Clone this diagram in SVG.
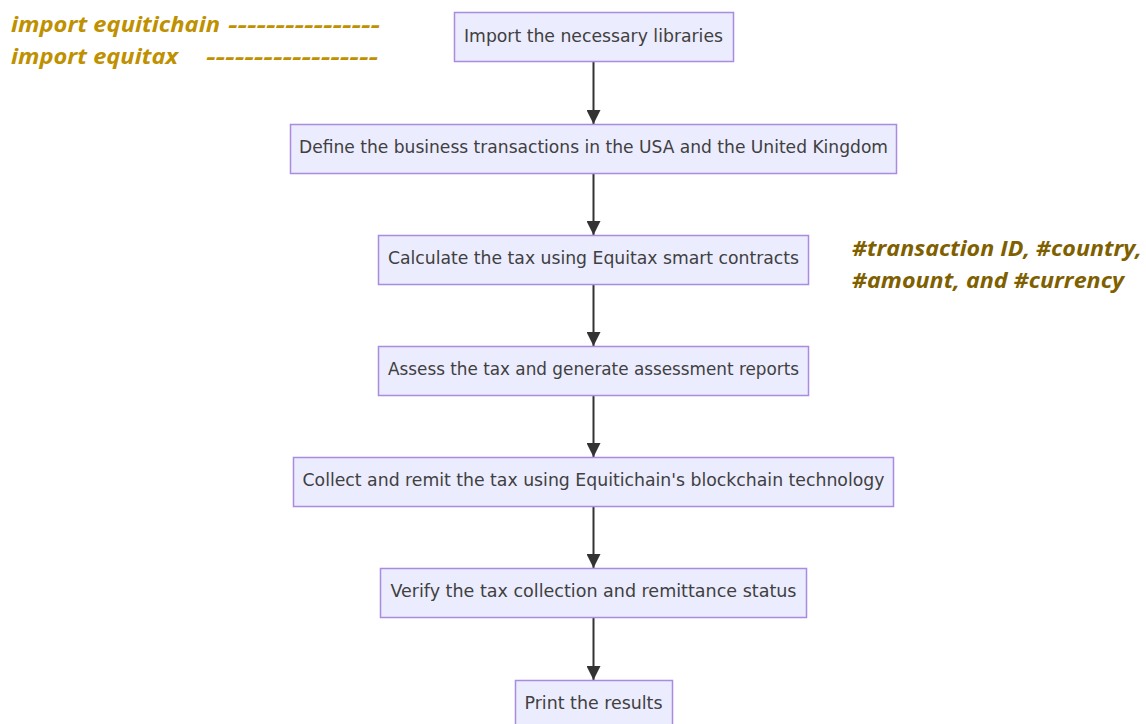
<svg xmlns="http://www.w3.org/2000/svg" width="1146" height="724" viewBox="0 0 1146 724">
  <defs>
    <marker id="arrow" viewBox="0 0 10 10" refX="10" refY="5" markerWidth="14" markerHeight="14" markerUnits="userSpaceOnUse" orient="auto">
      <path d="M0,0 L10,5 L0,10 z" fill="#333333"/>
    </marker>
    <style>
      .box { fill: #ECECFF; stroke: #A98BE0; stroke-width: 1.5; }
      .lbl { font-family: "DejaVu Sans Condensed", "DejaVu Sans", "Liberation Sans", sans-serif; font-size: 17px; fill: #404040; text-anchor: middle; }
      .edge { stroke: #333333; stroke-width: 2; fill: none; marker-end: url(#arrow); }
      .note1 { font-family: "Open Sans", "Liberation Sans", sans-serif; font-weight: bold; font-style: italic; font-size: 21px; fill: #BF9000; }
      .note2 { font-family: "Open Sans", "Liberation Sans", sans-serif; font-weight: bold; font-style: italic; font-size: 21px; fill: #7F6000; }
    </style>
  </defs>
  <rect width="1146" height="724" fill="#ffffff"/>

  <g id="edges">
    <line class="edge" x1="593.5" y1="62" x2="593.5" y2="124"/>
    <line class="edge" x1="593.5" y1="173" x2="593.5" y2="235"/>
    <line class="edge" x1="593.5" y1="284" x2="593.5" y2="346"/>
    <line class="edge" x1="593.5" y1="395" x2="593.5" y2="457"/>
    <line class="edge" x1="593.5" y1="507" x2="593.5" y2="568"/>
    <line class="edge" x1="593.5" y1="618" x2="593.5" y2="680"/>
  </g>

  <g id="n1">
    <rect class="box" x="454.5" y="12.5" width="279" height="49"/>
    <text class="lbl" x="593.5" y="42" textLength="259" lengthAdjust="spacingAndGlyphs">Import the necessary libraries</text>
  </g>
  <g id="n2">
    <rect class="box" x="290.5" y="124.5" width="606" height="49"/>
    <text class="lbl" x="593.5" y="153" textLength="589" lengthAdjust="spacingAndGlyphs">Define the business transactions in the USA and the United Kingdom</text>
  </g>
  <g id="n3">
    <rect class="box" x="378.5" y="235.5" width="430" height="49"/>
    <text class="lbl" x="593.5" y="264" textLength="411" lengthAdjust="spacingAndGlyphs">Calculate the tax using Equitax smart contracts</text>
  </g>
  <g id="n4">
    <rect class="box" x="378.5" y="346.5" width="430" height="49"/>
    <text class="lbl" x="593.5" y="375" textLength="411" lengthAdjust="spacingAndGlyphs">Assess the tax and generate assessment reports</text>
  </g>
  <g id="n5">
    <rect class="box" x="293.5" y="457.5" width="600" height="49"/>
    <text class="lbl" x="593.5" y="486" textLength="582" lengthAdjust="spacingAndGlyphs">Collect and remit the tax using Equitichain's blockchain technology</text>
  </g>
  <g id="n6">
    <rect class="box" x="380.5" y="568.5" width="426" height="49"/>
    <text class="lbl" x="593.5" y="597" textLength="406" lengthAdjust="spacingAndGlyphs">Verify the tax collection and remittance status</text>
  </g>
  <g id="n7">
    <rect class="box" x="515.5" y="680.5" width="157" height="49"/>
    <text class="lbl" x="593.5" y="709" textLength="138" lengthAdjust="spacingAndGlyphs">Print the results</text>
  </g>

  <g id="notes">
    <text class="note1" x="11" y="32" textLength="209" lengthAdjust="spacingAndGlyphs">import equitichain</text>
    <text class="note1" x="228" y="32" textLength="152" lengthAdjust="spacingAndGlyphs">----------------</text>
    <text class="note1" x="11" y="64" textLength="167" lengthAdjust="spacingAndGlyphs">import equitax</text>
    <text class="note1" x="206" y="64" textLength="172" lengthAdjust="spacingAndGlyphs">------------------</text>
    <text class="note2" x="852" y="256" textLength="290" lengthAdjust="spacingAndGlyphs">#transaction ID, #country,</text>
    <text class="note2" x="852" y="288" textLength="272" lengthAdjust="spacingAndGlyphs">#amount, and #currency</text>
  </g>
</svg>
